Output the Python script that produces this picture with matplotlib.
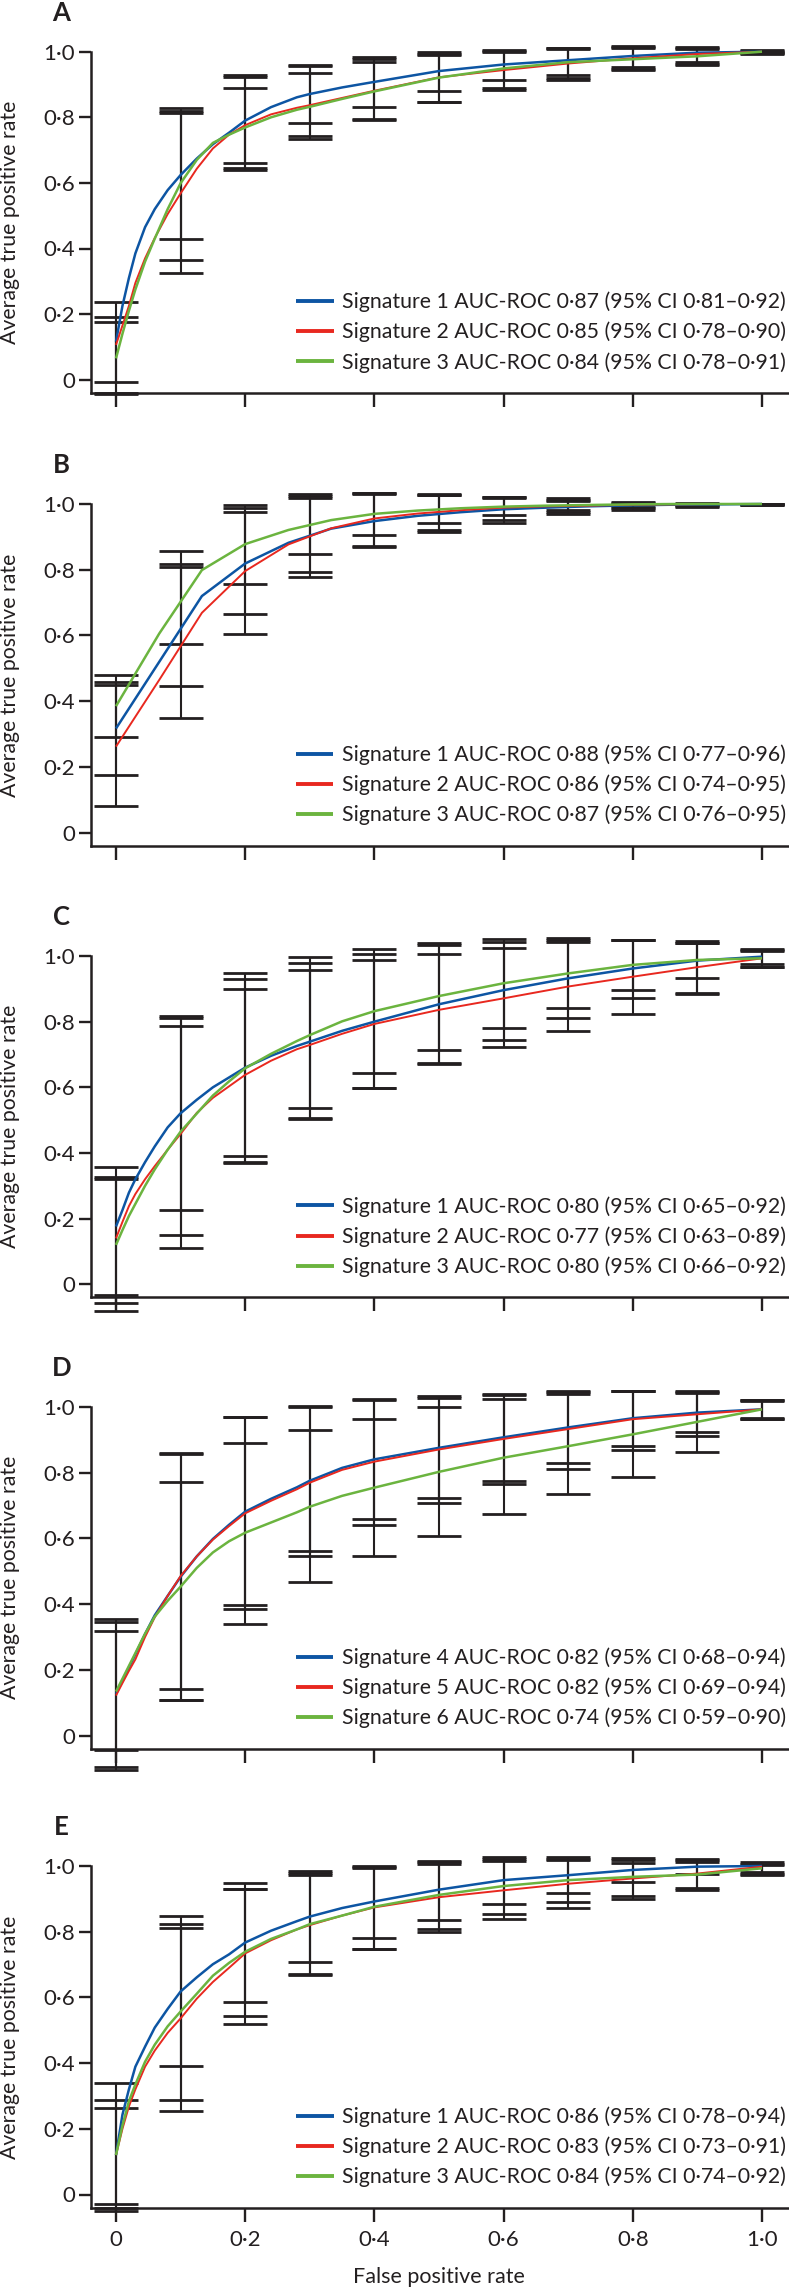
import matplotlib
matplotlib.use("Agg")
import matplotlib.pyplot as plt
import matplotlib.transforms as mtransforms

plt.rcParams['font.family'] = ['Lato', 'DejaVu Sans']

# ---------------- data ----------------
FPR = [0, 0.01, 0.02, 0.03, 0.045, 0.06, 0.08, 0.1, 0.125, 0.15, 0.175, 0.2,
       0.24, 0.28, 0.3, 0.35, 0.4, 0.5, 0.6, 0.7, 0.8, 0.9, 1.0]
FPR_B = [0, 0.067, 0.133, 0.2, 0.267, 0.333, 0.4, 0.467, 0.533, 0.6, 0.667,
         0.733, 0.8, 0.867, 0.933, 1.0]
FPR_ERR = [0, 0.1, 0.2, 0.3, 0.4, 0.5, 0.6, 0.7, 0.8, 0.9, 1.0]

TICKS = [0, 0.2, 0.4, 0.6, 0.8, 1.0]
TICK_LABELS = ["0", "0·2", "0·4", "0·6", "0·8", "1·0"]
PANEL_LETTERS = ["A", "B", "C", "D", "E"]

# Panel A
A_sig1 = [0.116, 0.225, 0.31, 0.385, 0.465, 0.52, 0.578, 0.624, 0.674, 0.718, 0.753, 0.79,
          0.831, 0.861, 0.871, 0.891, 0.908, 0.941, 0.961, 0.974, 0.987, 0.997, 1.0]
A_sig2 = [0.106, 0.165, 0.225, 0.295, 0.37, 0.432, 0.505, 0.568, 0.643, 0.705, 0.747, 0.776,
          0.809, 0.829, 0.837, 0.859, 0.881, 0.922, 0.944, 0.964, 0.98, 0.993, 1.0]
A_sig3 = [0.065, 0.14, 0.21, 0.275, 0.36, 0.43, 0.52, 0.599, 0.67, 0.722, 0.747, 0.769,
          0.8, 0.823, 0.832, 0.856, 0.879, 0.921, 0.949, 0.968, 0.977, 0.986, 1.0]
A_hi1 = [0.236, 0.827, 0.929, 0.959, 0.983, 0.998, 1.005, 1.012, 1.017, 1.013, 1.005]
A_hi2 = [0.192, 0.820, 0.922, 0.955, 0.978, 0.994, 1.003, 1.010, 1.013, 1.010, 1.003]
A_hi3 = [0.177, 0.814, 0.888, 0.934, 0.970, 0.990, 1.000, 1.008, 1.010, 1.007, 1.000]
A_lo1 = [-0.006, 0.429, 0.662, 0.782, 0.832, 0.881, 0.914, 0.929, 0.954, 0.970, 0.997]
A_lo2 = [-0.040, 0.365, 0.644, 0.743, 0.795, 0.848, 0.888, 0.919, 0.948, 0.962, 0.995]
A_lo3 = [-0.045, 0.326, 0.639, 0.734, 0.792, 0.846, 0.883, 0.914, 0.944, 0.959, 0.993]
A_labels = ["Signature 1 AUC-ROC 0·87 (95% CI 0·81–0·92)",
            "Signature 2 AUC-ROC 0·85 (95% CI 0·78–0·90)",
            "Signature 3 AUC-ROC 0·84 (95% CI 0·78–0·91)"]

# Panel B
B_sig1 = [0.317, 0.52, 0.720, 0.819, 0.882, 0.925, 0.948, 0.964, 0.975, 0.984, 0.989,
          0.993, 0.996, 0.998, 0.999, 1.0]
B_sig2 = [0.262, 0.465, 0.669, 0.796, 0.877, 0.926, 0.956, 0.971, 0.981, 0.989, 0.993,
          0.995, 0.998, 0.999, 1.0, 1.0]
B_sig3 = [0.385, 0.606, 0.799, 0.878, 0.921, 0.951, 0.970, 0.980, 0.987, 0.992, 0.995,
          0.997, 0.999, 1.0, 1.0, 1.0]
B_hi1 = [0.480, 0.858, 0.997, 1.030, 1.034, 1.030, 1.022, 1.017, 1.006, 1.003, 1.001]
B_hi2 = [0.459, 0.817, 0.989, 1.024, 1.032, 1.028, 1.020, 1.012, 1.003, 1.001, 1.000]
B_hi3 = [0.449, 0.807, 0.977, 1.017, 1.030, 1.026, 1.018, 1.010, 1.001, 1.000, 0.999]
B_lo1 = [0.292, 0.574, 0.757, 0.848, 0.906, 0.943, 0.967, 0.982, 0.992, 0.996, 0.999]
B_lo2 = [0.177, 0.447, 0.664, 0.794, 0.872, 0.921, 0.951, 0.975, 0.987, 0.993, 0.998]
B_lo3 = [0.081, 0.348, 0.603, 0.777, 0.870, 0.916, 0.943, 0.970, 0.982, 0.990, 0.997]
B_labels = ["Signature 1 AUC-ROC 0·88 (95% CI 0·77–0·96)",
            "Signature 2 AUC-ROC 0·86 (95% CI 0·74–0·95)",
            "Signature 3 AUC-ROC 0·87 (95% CI 0·76–0·95)"]

# Panel C
C_sig1 = [0.176, 0.226, 0.279, 0.32, 0.372, 0.42, 0.478, 0.521, 0.562, 0.6, 0.63, 0.66,
          0.696, 0.726, 0.739, 0.772, 0.8, 0.853, 0.896, 0.932, 0.962, 0.986, 0.998]
C_sig2 = [0.14, 0.19, 0.238, 0.275, 0.32, 0.36, 0.41, 0.458, 0.522, 0.568, 0.603, 0.638,
          0.681, 0.716, 0.729, 0.763, 0.793, 0.836, 0.871, 0.907, 0.937, 0.966, 0.993]
C_sig3 = [0.12, 0.165, 0.208, 0.245, 0.3, 0.35, 0.41, 0.465, 0.52, 0.575, 0.618, 0.658,
          0.702, 0.741, 0.759, 0.801, 0.832, 0.878, 0.917, 0.947, 0.973, 0.988, 0.993]
C_hi1 = [0.356, 0.817, 0.947, 0.998, 1.020, 1.041, 1.052, 1.054, 1.049, 1.047, 1.020]
C_hi2 = [0.326, 0.810, 0.929, 0.978, 1.006, 1.034, 1.044, 1.049, 1.049, 1.041, 1.017]
C_hi3 = [0.320, 0.787, 0.898, 0.957, 0.988, 1.006, 1.023, 1.044, 1.049, 1.039, 1.015]
C_lo1 = [-0.032, 0.226, 0.391, 0.536, 0.643, 0.714, 0.780, 0.843, 0.896, 0.932, 0.976]
C_lo2 = [-0.058, 0.150, 0.374, 0.506, 0.599, 0.673, 0.744, 0.810, 0.871, 0.886, 0.968]
C_lo3 = [-0.081, 0.110, 0.369, 0.504, 0.599, 0.670, 0.724, 0.773, 0.822, 0.884, 0.965]
C_labels = ["Signature 1 AUC-ROC 0·80 (95% CI 0·65–0·92)",
            "Signature 2 AUC-ROC 0·77 (95% CI 0·63–0·89)",
            "Signature 3 AUC-ROC 0·80 (95% CI 0·66–0·92)"]

# Panel D
D_sig4 = [0.127, 0.167, 0.207, 0.247, 0.309, 0.366, 0.425, 0.483, 0.545, 0.598, 0.641, 0.681,
          0.72, 0.755, 0.775, 0.814, 0.84, 0.875, 0.907, 0.937, 0.965, 0.982, 0.992]
D_sig5 = [0.122, 0.16, 0.197, 0.232, 0.30, 0.36, 0.425, 0.485, 0.545, 0.596, 0.637, 0.676,
          0.714, 0.749, 0.769, 0.808, 0.833, 0.870, 0.902, 0.932, 0.962, 0.977, 0.992]
D_sig6 = [0.134, 0.173, 0.212, 0.251, 0.31, 0.362, 0.41, 0.453, 0.51, 0.557, 0.591, 0.617,
          0.648, 0.679, 0.696, 0.729, 0.754, 0.802, 0.845, 0.880, 0.916, 0.954, 0.992]
D_hi1 = [0.354, 0.860, 0.968, 1.002, 1.022, 1.032, 1.038, 1.049, 1.049, 1.049, 1.020]
D_hi2 = [0.347, 0.856, 0.968, 1.000, 1.020, 1.025, 1.035, 1.045, 1.048, 1.045, 1.019]
D_hi3 = [0.319, 0.772, 0.889, 0.929, 0.963, 0.998, 1.022, 1.038, 1.047, 1.041, 1.018]
D_lo1 = [-0.044, 0.141, 0.397, 0.562, 0.659, 0.723, 0.775, 0.828, 0.880, 0.922, 0.965]
D_lo2 = [-0.094, 0.110, 0.384, 0.547, 0.640, 0.708, 0.765, 0.811, 0.868, 0.912, 0.963]
D_lo3 = [-0.104, 0.108, 0.341, 0.468, 0.546, 0.608, 0.674, 0.734, 0.787, 0.863, 0.962]
D_labels = ["Signature 4 AUC-ROC 0·82 (95% CI 0·68–0·94)",
            "Signature 5 AUC-ROC 0·82 (95% CI 0·69–0·94)",
            "Signature 6 AUC-ROC 0·74 (95% CI 0·59–0·90)"]

# Panel E
E_sig1 = [0.12, 0.243, 0.32, 0.389, 0.45, 0.508, 0.565, 0.618, 0.661, 0.701, 0.731, 0.767,
          0.803, 0.832, 0.846, 0.872, 0.892, 0.928, 0.957, 0.972, 0.988, 0.998, 1.0]
E_sig2 = [0.12, 0.2, 0.268, 0.32, 0.389, 0.438, 0.492, 0.536, 0.596, 0.647, 0.69, 0.734,
          0.774, 0.807, 0.820, 0.849, 0.874, 0.905, 0.926, 0.946, 0.962, 0.977, 0.998]
E_sig3 = [0.12, 0.21, 0.284, 0.335, 0.404, 0.456, 0.512, 0.557, 0.611, 0.666, 0.705, 0.739,
          0.778, 0.807, 0.823, 0.849, 0.876, 0.912, 0.939, 0.957, 0.967, 0.974, 0.993]
E_hi1 = [0.340, 0.848, 0.947, 0.986, 1.001, 1.016, 1.026, 1.026, 1.024, 1.022, 1.011]
E_hi2 = [0.288, 0.824, 0.930, 0.978, 0.998, 1.012, 1.022, 1.022, 1.017, 1.017, 1.007]
E_hi3 = [0.262, 0.810, 0.930, 0.972, 0.995, 1.006, 1.015, 1.019, 1.010, 1.013, 1.003]
E_lo1 = [-0.030, 0.391, 0.587, 0.709, 0.781, 0.836, 0.885, 0.918, 0.952, 0.975, 0.982]
E_lo2 = [-0.040, 0.288, 0.544, 0.671, 0.748, 0.807, 0.854, 0.890, 0.910, 0.933, 0.977]
E_lo3 = [-0.050, 0.254, 0.519, 0.668, 0.748, 0.799, 0.838, 0.871, 0.900, 0.926, 0.972]
E_labels = ["Signature 1 AUC-ROC 0·86 (95% CI 0·78–0·94)",
            "Signature 2 AUC-ROC 0·83 (95% CI 0·73–0·91)",
            "Signature 3 AUC-ROC 0·84 (95% CI 0·74–0·92)"]

# ---------------- style / layout ----------------
W, H = 789, 2291
DPI = 100
COLORS = ["#0d55a3", "#e8281f", "#6bb43f"]
LWS = [1.8, 1.4, 1.8]
INK = "#231f20"
XMIN, XMAX = -0.0393, 1.0418
YMIN, YMAX = -0.04, 1.10
AX_LEFT_PX = 90.6
# pixel row of value 0 and pixels per unit for each panel
PANEL_Y0 = [379.7, 832.7, 1284.3, 1735.7, 2194.5]
PANEL_UNIT = [328.0, 328.7, 328.3, 329.0, 328.5]

panels = [
    (FPR, [A_sig1, A_sig2, A_sig3], [A_hi1, A_hi2, A_hi3], [A_lo1, A_lo2, A_lo3], A_labels),
    (FPR_B, [B_sig1, B_sig2, B_sig3], [B_hi1, B_hi2, B_hi3], [B_lo1, B_lo2, B_lo3], B_labels),
    (FPR, [C_sig1, C_sig2, C_sig3], [C_hi1, C_hi2, C_hi3], [C_lo1, C_lo2, C_lo3], C_labels),
    (FPR, [D_sig4, D_sig5, D_sig6], [D_hi1, D_hi2, D_hi3], [D_lo1, D_lo2, D_lo3], D_labels),
    (FPR, [E_sig1, E_sig2, E_sig3], [E_hi1, E_hi2, E_hi3], [E_lo1, E_lo2, E_lo3], E_labels),
]

fig = plt.figure(figsize=(W / DPI, H / DPI), dpi=DPI)
fig.patch.set_facecolor("white")

for i, (xs, curves, his, los, labels) in enumerate(panels):
    y0 = PANEL_Y0[i]
    u = PANEL_UNIT[i]
    top_px = y0 - YMAX * u
    bot_px = y0 - YMIN * u
    ax = fig.add_axes([AX_LEFT_PX / W, 1 - bot_px / H,
                       (W - AX_LEFT_PX) / W, (bot_px - top_px) / H])
    ax.set_xlim(XMIN, XMAX)
    ax.set_ylim(YMIN, YMAX)
    ax.patch.set_alpha(0)

    # error bars
    for hi, lo in zip(his, los):
        mid = [(h + l) / 2 for h, l in zip(hi, lo)]
        err = [[m - l for m, l in zip(mid, lo)], [h - m for h, m in zip(hi, mid)]]
        cont = ax.errorbar(FPR_ERR, mid, yerr=err, fmt="none", ecolor=INK,
                           elinewidth=1.5, capsize=16, capthick=2.0, zorder=2)
        for art in cont.get_children():
            art.set_clip_on(False)

    # ROC curves
    for ys, c, lw, lab in zip(curves, COLORS, LWS, labels):
        ax.plot(xs, ys, color=c, lw=lw, label=lab, zorder=3,
                solid_joinstyle="round", solid_capstyle="butt")

    for s in ["top", "right"]:
        ax.spines[s].set_visible(False)
    ax.spines["left"].set_bounds(YMIN, 1.0)
    ax.spines["left"].set_linewidth(1.8)
    ax.spines["bottom"].set_linewidth(1.8)
    ax.spines["left"].set_color(INK)
    ax.spines["bottom"].set_color(INK)

    ax.set_yticks(TICKS)
    ax.set_yticklabels(TICK_LABELS)
    ax.set_xticks(TICKS)
    if i == len(panels) - 1:
        ax.set_xticklabels(TICK_LABELS)
    else:
        ax.set_xticklabels([])
    ax.tick_params(axis="y", length=9, width=1.7, pad=2, labelsize=16,
                   colors=INK, direction="out")
    ax.tick_params(axis="x", length=10, width=1.7, pad=6, labelsize=16,
                   colors=INK, direction="out")

    # legend, middle row centred at value ~0.145
    trans = mtransforms.blended_transform_factory(fig.transFigure, ax.transData)
    leg = ax.legend(loc="center right", bbox_to_anchor=(786 / W, 0.145),
                    bbox_transform=trans, frameon=False, fontsize=15.3,
                    handlelength=1.75, handletextpad=0.4, labelspacing=0.45,
                    borderpad=0, borderaxespad=0)
    for t in leg.get_texts():
        t.set_color(INK)
    for ln in leg.get_lines():
        ln.set_linewidth(2.8)

    # panel letter
    fig.text(61.5 / W, 1 - (y0 - u - 39) / H, PANEL_LETTERS[i], ha="center",
             va="center", fontsize=18.5, fontweight="bold", color=INK)
    # y-axis label
    fig.text(10 / W, 1 - (y0 - 0.48 * u) / H, "Average true positive rate",
             rotation=90, ha="center", va="center", fontsize=15.3, color=INK)

fig.text(439 / W, 1 - 2277 / H, "False positive rate", ha="center", va="center",
         fontsize=15.5, color=INK)

fig.savefig("out.png", dpi=DPI, facecolor="white")
